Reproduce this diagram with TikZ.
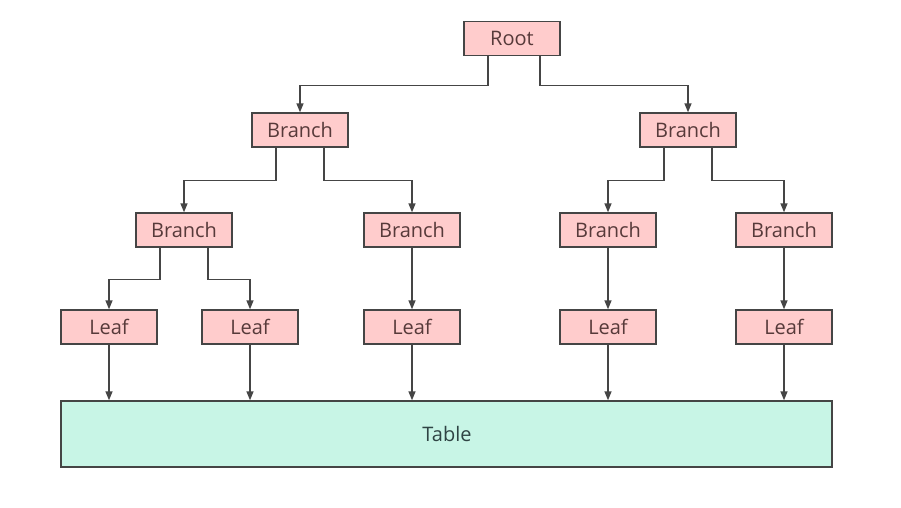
\documentclass[tikz,border=0pt]{standalone}
\usepackage{fontspec}
\setmainfont{Open Sans}
\usetikzlibrary{arrows.meta}
\definecolor{boxpink}{HTML}{FFCCCC}
\definecolor{boxgreen}{HTML}{C8F5E6}
\definecolor{edge}{HTML}{454545}
\definecolor{txtpink}{HTML}{573A3A}
\definecolor{txtgreen}{HTML}{2F4444}
\begin{document}
\begin{tikzpicture}[x=1pt,y=-1pt,
  pbox/.style={draw=edge,line width=1.4pt,fill=boxpink,minimum width=96pt,minimum height=34pt,inner sep=0pt,text=txtpink,font=\fontsize{20}{24}\selectfont},
  tbox/.style={draw=edge,line width=1.4pt,fill=boxgreen,minimum width=771pt,minimum height=66pt,inner sep=0pt},
  tlabel/.style={text=txtgreen,font=\fontsize{20}{24}\selectfont},
  arr/.style={draw=edge,line width=1.4pt,-{Triangle[length=9pt,width=7pt]}}]
\useasboundingbox (0,0) rectangle (901,507);
\fill[white] (0,0) rectangle (901,507);
\node[pbox] (root) at (512,38.5) {Root};
\node[pbox] (b1) at (300,130) {Branch};
\node[pbox] (b2) at (688,130) {Branch};
\node[pbox] (b11) at (184,230) {Branch};
\node[pbox] (b12) at (412,230) {Branch};
\node[pbox] (b21) at (608,230) {Branch};
\node[pbox] (b22) at (784,230) {Branch};
\node[pbox] (l1) at (109,327) {Leaf};
\node[pbox] (l2) at (250,327) {Leaf};
\node[pbox] (l3) at (412,327) {Leaf};
\node[pbox] (l4) at (608,327) {Leaf};
\node[pbox] (l5) at (784,327) {Leaf};
\node[tbox] (tab) at (446.5,434) {};
\node[tlabel] (tabl) at (447,434) {Table};
% root
\draw[arr] ([xshift=-24pt]root.south) -- ++(0,29) -| (b1.north);
\draw[arr] ([xshift=28pt]root.south) -- ++(0,29) -| (b2.north);
% level 1
\draw[arr] ([xshift=-24pt]b1.south) -- ++(0,33) -| (b11.north);
\draw[arr] ([xshift=24pt]b1.south) -- ++(0,33) -| (b12.north);
\draw[arr] ([xshift=-24pt]b2.south) -- ++(0,33) -| (b21.north);
\draw[arr] ([xshift=24pt]b2.south) -- ++(0,33) -| (b22.north);
% level 2
\draw[arr] ([xshift=-24pt]b11.south) -- ++(0,32) -| (l1.north);
\draw[arr] ([xshift=24pt]b11.south) -- ++(0,32) -| (l2.north);
\draw[arr] (b12.south) -- (l3.north);
\draw[arr] (b21.south) -- (l4.north);
\draw[arr] (b22.south) -- (l5.north);
% leaves to table
\draw[arr] (l1.south) -- (l1.south |- tab.north);
\draw[arr] (l2.south) -- (l2.south |- tab.north);
\draw[arr] (l3.south) -- (l3.south |- tab.north);
\draw[arr] (l4.south) -- (l4.south |- tab.north);
\draw[arr] (l5.south) -- (l5.south |- tab.north);
\end{tikzpicture}
\end{document}
